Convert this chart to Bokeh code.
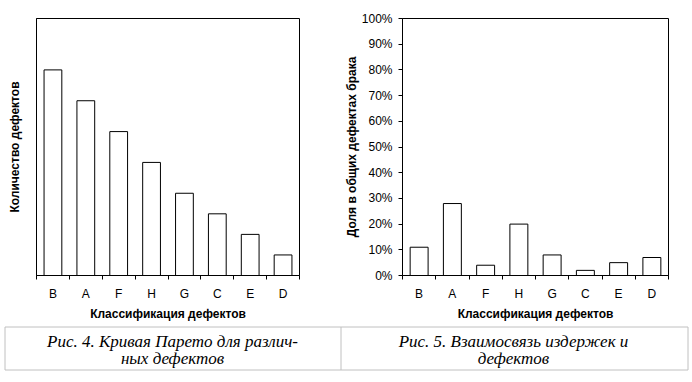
from bokeh.plotting import figure
from bokeh.layouts import column, row
from bokeh.models import (Range1d, LinearAxis, FixedTicker,
                          ColumnDataSource, Label, PrintfTickFormatter)
from bokeh.embed import file_html
from bokeh.resources import INLINE

# ---- data ----
categories = ["B", "A", "F", "H", "G", "C", "E", "D"]
defect_counts = [200, 170, 140, 110, 80, 60, 40, 20]
cost_share = [11, 28, 4, 20, 8, 2, 5, 7]
share_ticks = [0, 10, 20, 30, 40, 50, 60, 70, 80, 90, 100]
x_title = "Классификация дефектов"
y1_title = "Количество дефектов"
y2_title = "Доля в общих дефектах брака"
caption_left = ["Рис. 4. Кривая Парето для различ-", "ных дефектов"]
caption_right = ["Рис. 5. Взаимосвязь издержек и", "дефектов"]

FONT = "Liberation Sans"
n = len(categories)
centers = [i + 0.5 for i in range(n)]
edges = list(range(n + 1))
CHART_H = 323


def make_chart(values, y_end, y_ticks, y_title, fmt, width,
               b_left, b_right, b_top, b_bottom, label_standoff, title_standoff):
    p = figure(width=width, height=CHART_H,
               x_range=Range1d(0, n), y_range=Range1d(0, y_end),
               x_axis_location=None, y_axis_location=None,
               output_backend="svg", toolbar_location=None,
               min_border_left=b_left, min_border_right=b_right,
               min_border_top=b_top, min_border_bottom=b_bottom)
    p.grid.visible = False
    p.outline_line_color = "black"
    p.outline_line_alpha = 1
    p.background_fill_color = "white"
    p.border_fill_color = "white"

    xax = LinearAxis(ticker=FixedTicker(ticks=centers, minor_ticks=edges),
                     major_label_overrides={c: cat for c, cat in zip(centers, categories)},
                     major_tick_line_color=None,
                     major_tick_out=0, major_tick_in=0,
                     minor_tick_out=4, minor_tick_in=0, minor_tick_line_color="black",
                     axis_line_color="black",
                     major_label_standoff=7,
                     major_label_text_font=FONT,
                     major_label_text_font_size="12px",
                     major_label_text_color="black",
                     axis_label=x_title,
                     axis_label_text_font=FONT,
                     axis_label_text_font_size="12px",
                     axis_label_text_font_style="bold",
                     axis_label_text_color="black",
                     axis_label_standoff=3)
    p.add_layout(xax, "below")

    yax = LinearAxis(ticker=FixedTicker(ticks=y_ticks),
                     major_tick_out=4, major_tick_in=0,
                     minor_tick_line_color=None,
                     major_label_standoff=label_standoff,
                     major_label_text_font=FONT,
                     major_label_text_font_size="12px",
                     major_label_text_color="black",
                     axis_label=y_title,
                     axis_label_text_font=FONT,
                     axis_label_text_font_size="12px",
                     axis_label_text_font_style="bold",
                     axis_label_text_color="black",
                     axis_label_standoff=title_standoff,
                     axis_line_color="black")
    if fmt is not None:
        yax.formatter = fmt
    p.add_layout(yax, "left")

    src = ColumnDataSource(dict(x=centers, cat=categories, val=values))
    p.vbar(x="x", top="val", bottom=0, width=0.54, source=src,
           fill_color="white", line_color="black", line_width=1)
    return p


p1 = make_chart(defect_counts, 250, [], y1_title, None, 340,
                36, 41, 16, 48, 4, 15)
p2 = make_chart(cost_share, 100, share_ticks, y2_title,
                PrintfTickFormatter(format="%d%%"), 350,
                62, 22, 18, 48, 6, 0)

# ---- caption table ----
CAP_W, CAP_H = 690, 58
cap = figure(width=CAP_W, height=CAP_H, x_range=Range1d(0, CAP_W), y_range=Range1d(0, CAP_H),
             x_axis_location=None, y_axis_location=None,
             output_backend="svg", toolbar_location=None,
             min_border_left=0, min_border_right=0, min_border_top=0, min_border_bottom=0)
cap.grid.visible = False
cap.outline_line_color = None
cap.quad(left=[4.5], right=[687.5], bottom=[11.5], top=[54.5],
         fill_color=None, line_color="#c0c0c0", line_width=1)
cap.segment(x0=[340.5], x1=[340.5], y0=[11.5], y1=[54.5], line_color="#c0c0c0", line_width=1)
for cx, lines in ((172, caption_left), (513, caption_right)):
    for ly, t in zip((40, 23), lines):
        cap.add_layout(Label(x=cx, y=ly, text=t, text_align="center", text_baseline="middle",
                             text_font="Liberation Serif", text_font_style="italic",
                             text_font_size="17px", text_color="black"))

layout = column(row(p1, p2, spacing=0), cap, spacing=0)
open("out.html", "w").write(file_html(layout, INLINE))
